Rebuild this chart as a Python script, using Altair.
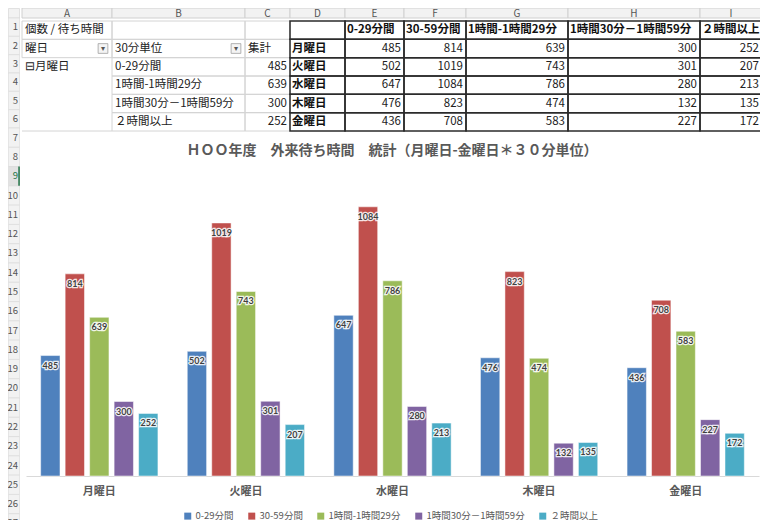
import altair as alt
import pandas as pd

# ---------------- data ----------------
days = ["月曜日", "火曜日", "水曜日", "木曜日", "金曜日"]
categories = ["0-29分間", "30-59分間", "1時間-1時間29分", "1時間30分－1時間59分", "２時間以上"]
v_0_29 = [485, 502, 647, 476, 436]
v_30_59 = [814, 1019, 1084, 823, 708]
v_60_89 = [639, 743, 786, 474, 583]
v_90_119 = [300, 301, 280, 132, 227]
v_120 = [252, 207, 213, 135, 172]
series = [v_0_29, v_30_59, v_60_89, v_90_119, v_120]
colors = ["#4F81BD", "#C0504D", "#9BBB59", "#8064A2", "#4BACC6"]

chart_title = "ＨＯＯ年度　外来待ち時間　統計（月曜日-金曜日＊３０分単位）"

pivot_title = "個数 / 待ち時間"
pivot_row_field = "曜日"
pivot_col_field = "30分単位"
pivot_value_header = "集計"
pivot_day = "⊟月曜日"
pivot_items = ["0-29分間", "1時間-1時間29分", "1時間30分－1時間59分", " ２時間以上"]
pivot_values = [485, 639, 300, 252]

col_letters = ["A", "B", "C", "D", "E", "F", "G", "H", "I"]
table_rows = [1, 2, 3, 4, 5, 6]
sheet_rows_below = list(range(7, 28))
active_row = 9

JP = "Noto Sans CJK JP"

# layout widths of the spreadsheet columns (px)
col_widths = {"A": 90, "B": 133, "C": 45, "D": 55, "E": 59, "F": 62, "G": 102, "H": 132, "I": 62}

# ---------------- spreadsheet cells ----------------
cells = []


def add(col, row, text, align="left", bold=False, border="light", button=""):
    cells.append(dict(col=col, row=row, text=str(text), align=align, bold=bold, border=border, button=button))


add("A", 1, pivot_title)
add("B", 1, "")
add("C", 1, "")
add("A", 2, pivot_row_field, button="▾")
add("B", 2, pivot_col_field, button="▾")
add("C", 2, pivot_value_header)
add("A", 3, pivot_day, border="none")
for r in (4, 5, 6):
    add("A", r, "", border="none")
for k, (item, val) in enumerate(zip(pivot_items, pivot_values)):
    add("B", 3 + k, item)
    add("C", 3 + k, val, align="right")
add("D", 1, "", border="dark")
for i, d in enumerate(days):
    add("D", 2 + i, d, bold=True, border="dark")
for j, c in enumerate(categories):
    col = col_letters[4 + j]
    add(col, 1, c, bold=True, border="dark")
    for i in range(len(days)):
        add(col, 2 + i, series[j][i], align="right", border="dark")

cells_df = pd.DataFrame(cells)

row_scale = alt.Scale(domain=table_rows, paddingInner=0, paddingOuter=0)
yrow = alt.Y("row:O", scale=row_scale, axis=None)


def body_col(letter):
    w = col_widths[letter]
    src = alt.Chart(cells_df[cells_df.col == letter])
    layers = []
    layers.append(src.transform_filter("datum.border == 'light'").mark_rect(
        fill="transparent", stroke="#D4D4D4", strokeWidth=1
    ).encode(y=yrow, x=alt.value(0), x2=alt.value(w)))
    layers.append(src.transform_filter("datum.border == 'none' && datum.row == 6").mark_rule(
        color="#D4D4D4", strokeWidth=1
    ).encode(y=alt.Y("row:O", scale=row_scale, axis=None, bandPosition=1), x=alt.value(0), x2=alt.value(w)))
    layers.append(src.transform_filter("datum.border == 'dark'").mark_rect(
        fill="transparent", stroke="#2B2B2B", strokeWidth=1.5
    ).encode(y=yrow, x=alt.value(0), x2=alt.value(w)))
    layers.append(src.transform_filter("datum.align == 'left' && !datum.bold").mark_text(
        align="left", baseline="middle", fontSize=11.5, font=JP, color="#222222"
    ).encode(y=yrow, x=alt.value(3), text="text:N"))
    layers.append(src.transform_filter("datum.align == 'left' && datum.bold").mark_text(
        align="left", baseline="middle", fontSize=11.5, font=JP, fontWeight="bold", color="#111111"
    ).encode(y=yrow, x=alt.value(2), text="text:N"))
    layers.append(src.transform_filter("datum.align == 'right'").mark_text(
        align="right", baseline="middle", fontSize=11.5, font=JP, color="#222222"
    ).encode(y=yrow, x=alt.value(w - 3), text="text:N"))
    # pivot drop-down buttons
    layers.append(src.transform_filter("datum.button != ''").mark_point(
        shape="square", size=95, filled=True, fill="#F4F4F4", stroke="#A0A0A0", strokeWidth=0.8, opacity=1
    ).encode(y=yrow, x=alt.value(w - 9)))
    layers.append(src.transform_filter("datum.button != ''").mark_text(
        baseline="middle", fontSize=8, color="#555555"
    ).encode(y=yrow, x=alt.value(w - 9), text="button:N"))
    return alt.layer(*layers).properties(width=w, height=110)


def letter_col(letter):
    w = col_widths[letter]
    d = alt.Chart(pd.DataFrame({"letter": [letter]}))
    r = d.mark_rect(fill="#F2F2F2", stroke="#D0D0D0").encode(
        x=alt.value(0), x2=alt.value(w), y=alt.value(0), y2=alt.value(10)
    )
    t = d.mark_text(fontSize=10, color="#555555", baseline="middle").encode(
        x=alt.value(w / 2), y=alt.value(5.5), text="letter:N"
    )
    return alt.layer(r, t).properties(width=w, height=10)


letters_row = alt.hconcat(*[letter_col(c) for c in col_letters], spacing=0, bounds="flush")
body_row = alt.hconcat(*[body_col(c) for c in col_letters], spacing=0, bounds="flush")
sheet = alt.vconcat(letters_row, body_row, spacing=0)


# row number strip
def num_block(rows, height):
    df = pd.DataFrame({"row": rows, "label": [str(r) for r in rows]})
    yn = alt.Y("row:O", scale=alt.Scale(domain=rows, paddingInner=0, paddingOuter=0), axis=None)
    b = alt.Chart(df)
    active = f"datum.row == {active_row}"
    return alt.layer(
        b.mark_rect(stroke="#D6D6D6", strokeWidth=0.6).encode(
            y=yn, x=alt.value(0.5), x2=alt.value(11.5),
            fill=alt.condition(active, alt.value("#E2E2E2"), alt.value("#F2F2F2")),
        ),
        b.transform_filter(active).mark_rect(fill="#217346").encode(
            y=yn, x=alt.value(10.3), x2=alt.value(11.8)
        ),
        b.mark_text(align="right", baseline="middle", fontSize=9.5).encode(
            y=yn, x=alt.value(10), text="label:N",
            color=alt.condition(active, alt.value("#217346"), alt.value("#555555")),
        ),
    ).properties(width=12, height=height)


corner = alt.Chart(pd.DataFrame({"k": [0]})).mark_rect(fill="#F2F2F2", stroke="#D0D0D0", strokeWidth=0.6).encode(
    x=alt.value(0.5), x2=alt.value(11.5), y=alt.value(0.5), y2=alt.value(10)
).properties(width=12, height=10)
strip = alt.vconcat(corner, num_block(table_rows, 110), num_block(sheet_rows_below, 405), spacing=0, bounds="flush")

# ---------------- bar chart ----------------
bar_df = pd.DataFrame(
    [{"day": d, "cat": c, "value": series[j][i]} for j, c in enumerate(categories) for i, d in enumerate(days)]
)

x = alt.X(
    "day:N", sort=days,
    scale=alt.Scale(range=[4, 737], paddingInner=0.2, paddingOuter=0.1),
    axis=alt.Axis(
        title=None, labelAngle=0, ticks=False, domainColor="#D9D9D9", domainWidth=1,
        labelFont=JP, labelFontWeight="bold", labelFontSize=11, labelColor="#595959", labelPadding=9,
    ),
)
xo = alt.XOffset("cat:N", sort=categories, scale=alt.Scale(domain=categories, paddingInner=0.21, paddingOuter=0))
y = alt.Y("value:Q", scale=alt.Scale(domain=[0, 1200], nice=False, zero=True), axis=None)
color = alt.Color(
    "cat:N", sort=categories,
    scale=alt.Scale(domain=categories, range=colors),
    legend=alt.Legend(
        title=None, orient="none", direction="horizontal", legendX=175, legendY=503,
        symbolType="square", symbolSize=49, symbolStrokeWidth=0, labelFont=JP, labelFontSize=9.5,
        labelColor="#595959", columnPadding=13, labelOffset=3, columns=5,
    ),
)

base = alt.Chart(bar_df)
bars = base.mark_bar(stroke="#FFFFFF", strokeWidth=1, strokeOpacity=0.5).encode(x=x, xOffset=xo, y=y, color=color)
halo = base.mark_text(
    dy=10, baseline="middle", fontSize=9, font="Lato", fontWeight="bold",
    color="#FFFFFF", stroke="#FFFFFF", strokeWidth=2.5, strokeOpacity=0.85,
).encode(x=x, xOffset=xo, y=y, text="value:Q")
labels = base.mark_text(
    dy=10, baseline="middle", fontSize=9, font="Lato", fontWeight="bold", color="#404040"
).encode(x=x, xOffset=xo, y=y, text="value:Q")

bar_chart = alt.layer(bars, halo, labels).properties(
    width=740, height=298,
    title=alt.TitleParams(
        text=chart_title, fontSize=14, fontWeight="bold", color="#595959", font=JP, offset=20, anchor="middle"
    ),
)

right = alt.vconcat(sheet, bar_chart, spacing=10)
chart = alt.hconcat(strip, right, spacing=0).properties(
    autosize=alt.AutoSizeParams(type="none"),
    padding={"top": 0, "left": 0, "right": 752, "bottom": 512},
).configure(font=JP).configure_view(stroke="transparent")

chart.save("out.html", embed_options={"renderer": "svg", "actions": False})
